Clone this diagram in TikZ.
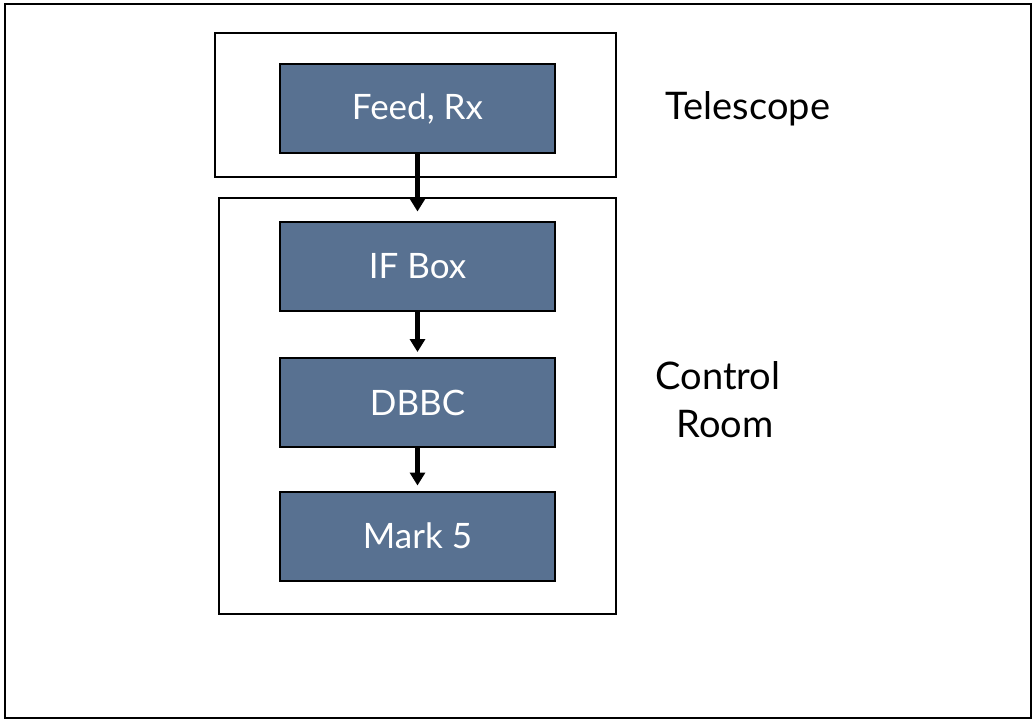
\documentclass[tikz,border=0pt]{standalone}
\usepackage{fontspec}
\setmainfont{Lato}
\usetikzlibrary{arrows.meta}
\definecolor{slate}{RGB}{88,113,145}
\begin{document}
\begin{tikzpicture}[x=1pt,y=-1pt,
  region/.style={draw,line width=2pt},
  unit/.style={draw,line width=2pt,fill=slate,text=white,
    minimum width=275pt,minimum height=89pt,font=\fontsize{35}{42}\selectfont},
  place/.style={font=\fontsize{38}{48}\selectfont,align=center},
  flow/.style={line width=4.5pt,-{Triangle[length=13pt,width=15pt]},shorten >=5pt}]
\useasboundingbox (0,0) rectangle (1035,721);
\node [region,minimum width=1026pt,minimum height=714pt] (frame) at (518,361) {};
% telescope side
\node [region,minimum width=401pt,minimum height=144pt] (tel) at (415.5,105) {};
\node [unit] (feed) at (417.5,108.5) {Feed, Rx};
\node [place,anchor=base] (tellabel) at (748,119) {Telescope};
% control room side
\node [region,minimum width=397pt,minimum height=416pt] (ctrl) at (417.5,406) {};
\node [unit] (ifbox) at (417.5,266) {IF Box};
\node [unit] (dbbc) at (417.5,402.5) {DBBC};
\node [unit] (mark) at (417.5,536) {Mark 5};
\node [place] (ctrllabel) at (718,400) {Control\\\hspace*{14pt}Room};
% signal path
\draw [flow,shorten >=9pt] (feed) -- (ifbox);
\draw [flow] (ifbox) -- (dbbc);
\draw [flow] (dbbc) -- (mark);
\end{tikzpicture}
\end{document}
